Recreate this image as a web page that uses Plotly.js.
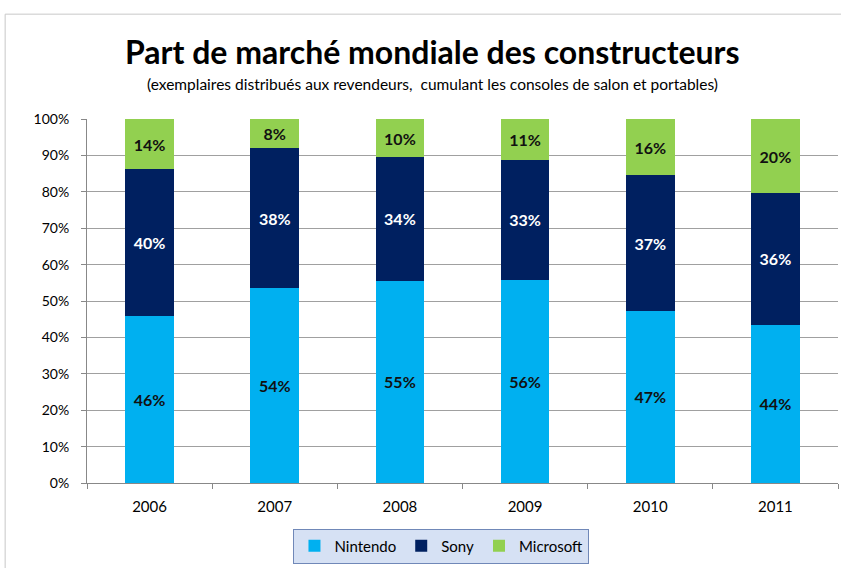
<!DOCTYPE html>
<html><head><meta charset="utf-8">
<script src="https://cdn.plot.ly/plotly-3.0.1.min.js"></script>
<style>html,body{margin:0;padding:0;background:#fff;}#chart{width:841px;height:568px;}</style>
</head><body><div id="chart"></div>
<script>
var years = ["2006","2007","2008","2009","2010","2011"];
var nintendo = [46.0, 53.5, 55.6, 55.9, 47.3, 43.5];
var sony = [40.2, 38.5, 33.9, 32.8, 37.2, 36.1];
var microsoft = [13.8, 8.0, 10.5, 11.3, 15.5, 20.4];
var nintendoLabels = ["46%","54%","55%","56%","47%","44%"];
var sonyLabels = ["40%","38%","34%","33%","37%","36%"];
var microsoftLabels = ["14%","8%","10%","11%","16%","20%"];
var yTicks = [0,10,20,30,40,50,60,70,80,90,100];
var yTickText = yTicks.map(function(v){return v+"%";});

var fontFam = "Lato, 'Open Sans', sans-serif";
function mk(name, y, labels, color, txtColor){
  return {type:"bar", name:name, x:years, y:y, text:labels, textposition:"inside",
    insidetextanchor:"middle", textangle:0, constraintext:"none",
    textfont:{family:fontFam, size:16, color:txtColor, weight:"bold"},
    marker:{color:color, line:{width:0}}, hoverinfo:"skip"};
}
var data = [
  mk("Nintendo", nintendo, nintendoLabels, "#00B0F0", "#111111"),
  mk("Sony", sony, sonyLabels, "#002060", "#ffffff"),
  mk("Microsoft", microsoft, microsoftLabels, "#92D050", "#111111")
];
var layout = {
  width:841, height:568, barmode:"stack", bargap:0.61,
  paper_bgcolor:"#ffffff", plot_bgcolor:"#ffffff",
  margin:{l:87, r:3, t:119, b:85},
  font:{family:fontFam, color:"#000"},
  xaxis:{type:"category", tickson:"boundaries", ticks:"outside", ticklen:5, tickcolor:"#888",
    showline:true, linecolor:"#888", linewidth:1, showgrid:false, ticklabelstandoff:10,
    tickfont:{family:fontFam, size:15, color:"#000"}},
  yaxis:{range:[0,100], tickvals:yTicks, ticktext:yTickText, ticks:"outside", ticklen:5,
    tickcolor:"#888", showline:true, linecolor:"#888", gridcolor:"#a0a0a0", gridwidth:1,
    zeroline:false, ticklabelstandoff:9, tickfont:{family:fontFam, size:14, color:"#000"}},
  showlegend:true,
  legend:{orientation:"h", x:0.472, xanchor:"center", y:-0.125, yanchor:"top",
    bgcolor:"#d6e1f4", bordercolor:"#7088b8", borderwidth:1,
    font:{family:fontFam, size:15, color:"#000"}, traceorder:"normal", itemwidth:30},
  annotations:[
    {text:"<b>Part de marché mondiale des constructeurs</b>", xref:"paper", yref:"paper",
     x:0.46, y:1.185, xanchor:"center", yanchor:"middle", showarrow:false,
     font:{family:fontFam, size:32, color:"#000"}},
    {text:"(exemplaires distribués aux revendeurs,  cumulant les consoles de salon et portables)",
     xref:"paper", yref:"paper", x:0.46, y:1.095, xanchor:"center", yanchor:"middle", showarrow:false,
     font:{family:fontFam, size:15.5, color:"#000"}}
  ],
  shapes:[
    {type:"rect", xref:"paper", yref:"paper", x0:-0.109, x1:1.05, y0:-0.4, y1:1.288,
     line:{color:"#c8c8c8", width:1}, fillcolor:"rgba(0,0,0,0)", layer:"below"}
  ]
};
Plotly.newPlot("chart", data, layout, {displayModeBar:false, staticPlot:true});
</script></body></html>
